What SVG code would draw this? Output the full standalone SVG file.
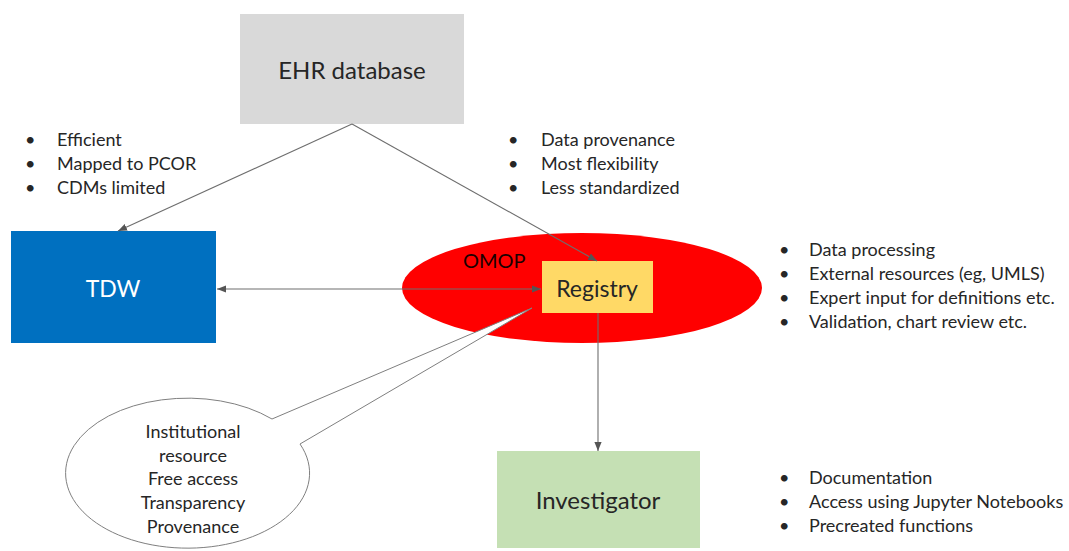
<svg xmlns="http://www.w3.org/2000/svg" width="1069" height="551" viewBox="0 0 1069 551">
  <style>
    text { font-family: Lato, "Open Sans", "Liberation Sans", sans-serif; fill: #262626; }
    .lbl { font-size: 23px; text-anchor: middle; dominant-baseline: central; }
    .bul { font-size: 18px; }
    .call { font-size: 18px; text-anchor: middle; }
    .conn { stroke: #6e6e6e; stroke-width: 1.1; fill: none; }
  </style>
  <defs>
    <marker id="arr" viewBox="0 0 10 10" refX="10" refY="5" markerWidth="9" markerHeight="9" markerUnits="userSpaceOnUse" orient="auto-start-reverse">
      <path d="M0,1 L10,5 L0,9 z" fill="#555"/>
    </marker>
  </defs>

  <rect width="1069" height="551" fill="#ffffff"/>

  <!-- source database -->
  <g id="ehr">
    <rect x="240" y="14" width="224" height="110" fill="#d9d9d9"/>
    <text class="lbl" x="352" y="69" style="font-size:24px">EHR database</text>
  </g>

  <!-- data warehouse -->
  <g id="tdw">
    <rect x="11" y="231" width="205" height="112" fill="#0070c0"/>
    <text class="lbl" x="113" y="288" style="fill:#ffffff">TDW</text>
  </g>

  <!-- OMOP ellipse with registry inside -->
  <g id="omop">
    <ellipse cx="582" cy="288" rx="180" ry="55" fill="#ff0000"/>
    <text x="463" y="268" style="font-size:20px;fill:#1a0000">OMOP</text>
  </g>
  <g id="registry">
    <rect x="542" y="261" width="111" height="52" fill="#ffd966"/>
    <text class="lbl" x="597" y="288">Registry</text>
  </g>

  <g id="investigator">
    <rect x="497" y="451" width="203" height="97" fill="#c5e0b4"/>
    <text class="lbl" x="598" y="499" style="font-size:24px">Investigator</text>
  </g>

  <!-- speech-bubble callout -->
  <g id="callout">
    <path d="M272,419 L532,308 L300,444 A122,75 0 1 1 272,419 Z" fill="#ffffff" stroke="#7f7f7f" stroke-width="1"/>
    <text class="call" x="193" y="438">Institutional</text>
    <text class="call" x="193" y="462">resource</text>
    <text class="call" x="193" y="485">Free access</text>
    <text class="call" x="193" y="509">Transparency</text>
    <text class="call" x="193" y="533">Provenance</text>
  </g>

  <!-- connectors -->
  <g id="connectors">
    <line class="conn" x1="352" y1="124" x2="118" y2="231" marker-end="url(#arr)"/>
    <line class="conn" x1="352" y1="124" x2="597" y2="261" marker-end="url(#arr)"/>
    <line class="conn" x1="217" y1="289" x2="541" y2="289" marker-start="url(#arr)" marker-end="url(#arr)"/>
    <line class="conn" x1="598" y1="313" x2="598" y2="451" marker-end="url(#arr)"/>
  </g>

  <!-- bullet notes -->
  <g id="notes-tdw">
    <text class="bul" x="25" y="146">•</text><text class="bul" x="57" y="146">Efficient</text>
    <text class="bul" x="25" y="170">•</text><text class="bul" x="57" y="170">Mapped to PCOR</text>
    <text class="bul" x="25" y="194">•</text><text class="bul" x="57" y="194">CDMs limited</text>
  </g>
  <g id="notes-registry-source">
    <text class="bul" x="508" y="146">•</text><text class="bul" x="541" y="146">Data provenance</text>
    <text class="bul" x="508" y="170">•</text><text class="bul" x="541" y="170">Most flexibility</text>
    <text class="bul" x="508" y="194">•</text><text class="bul" x="541" y="194">Less standardized</text>
  </g>
  <g id="notes-registry">
    <text class="bul" x="779" y="256">•</text><text class="bul" x="809" y="256">Data processing</text>
    <text class="bul" x="779" y="280">•</text><text class="bul" x="809" y="280">External resources (eg, UMLS)</text>
    <text class="bul" x="779" y="304">•</text><text class="bul" x="809" y="304">Expert input for definitions etc.</text>
    <text class="bul" x="779" y="328">•</text><text class="bul" x="809" y="328">Validation, chart review etc.</text>
  </g>
  <g id="notes-investigator">
    <text class="bul" x="779" y="484">•</text><text class="bul" x="809" y="484">Documentation</text>
    <text class="bul" x="779" y="508">•</text><text class="bul" x="809" y="508">Access using Jupyter Notebooks</text>
    <text class="bul" x="779" y="532">•</text><text class="bul" x="809" y="532">Precreated functions</text>
  </g>
</svg>
